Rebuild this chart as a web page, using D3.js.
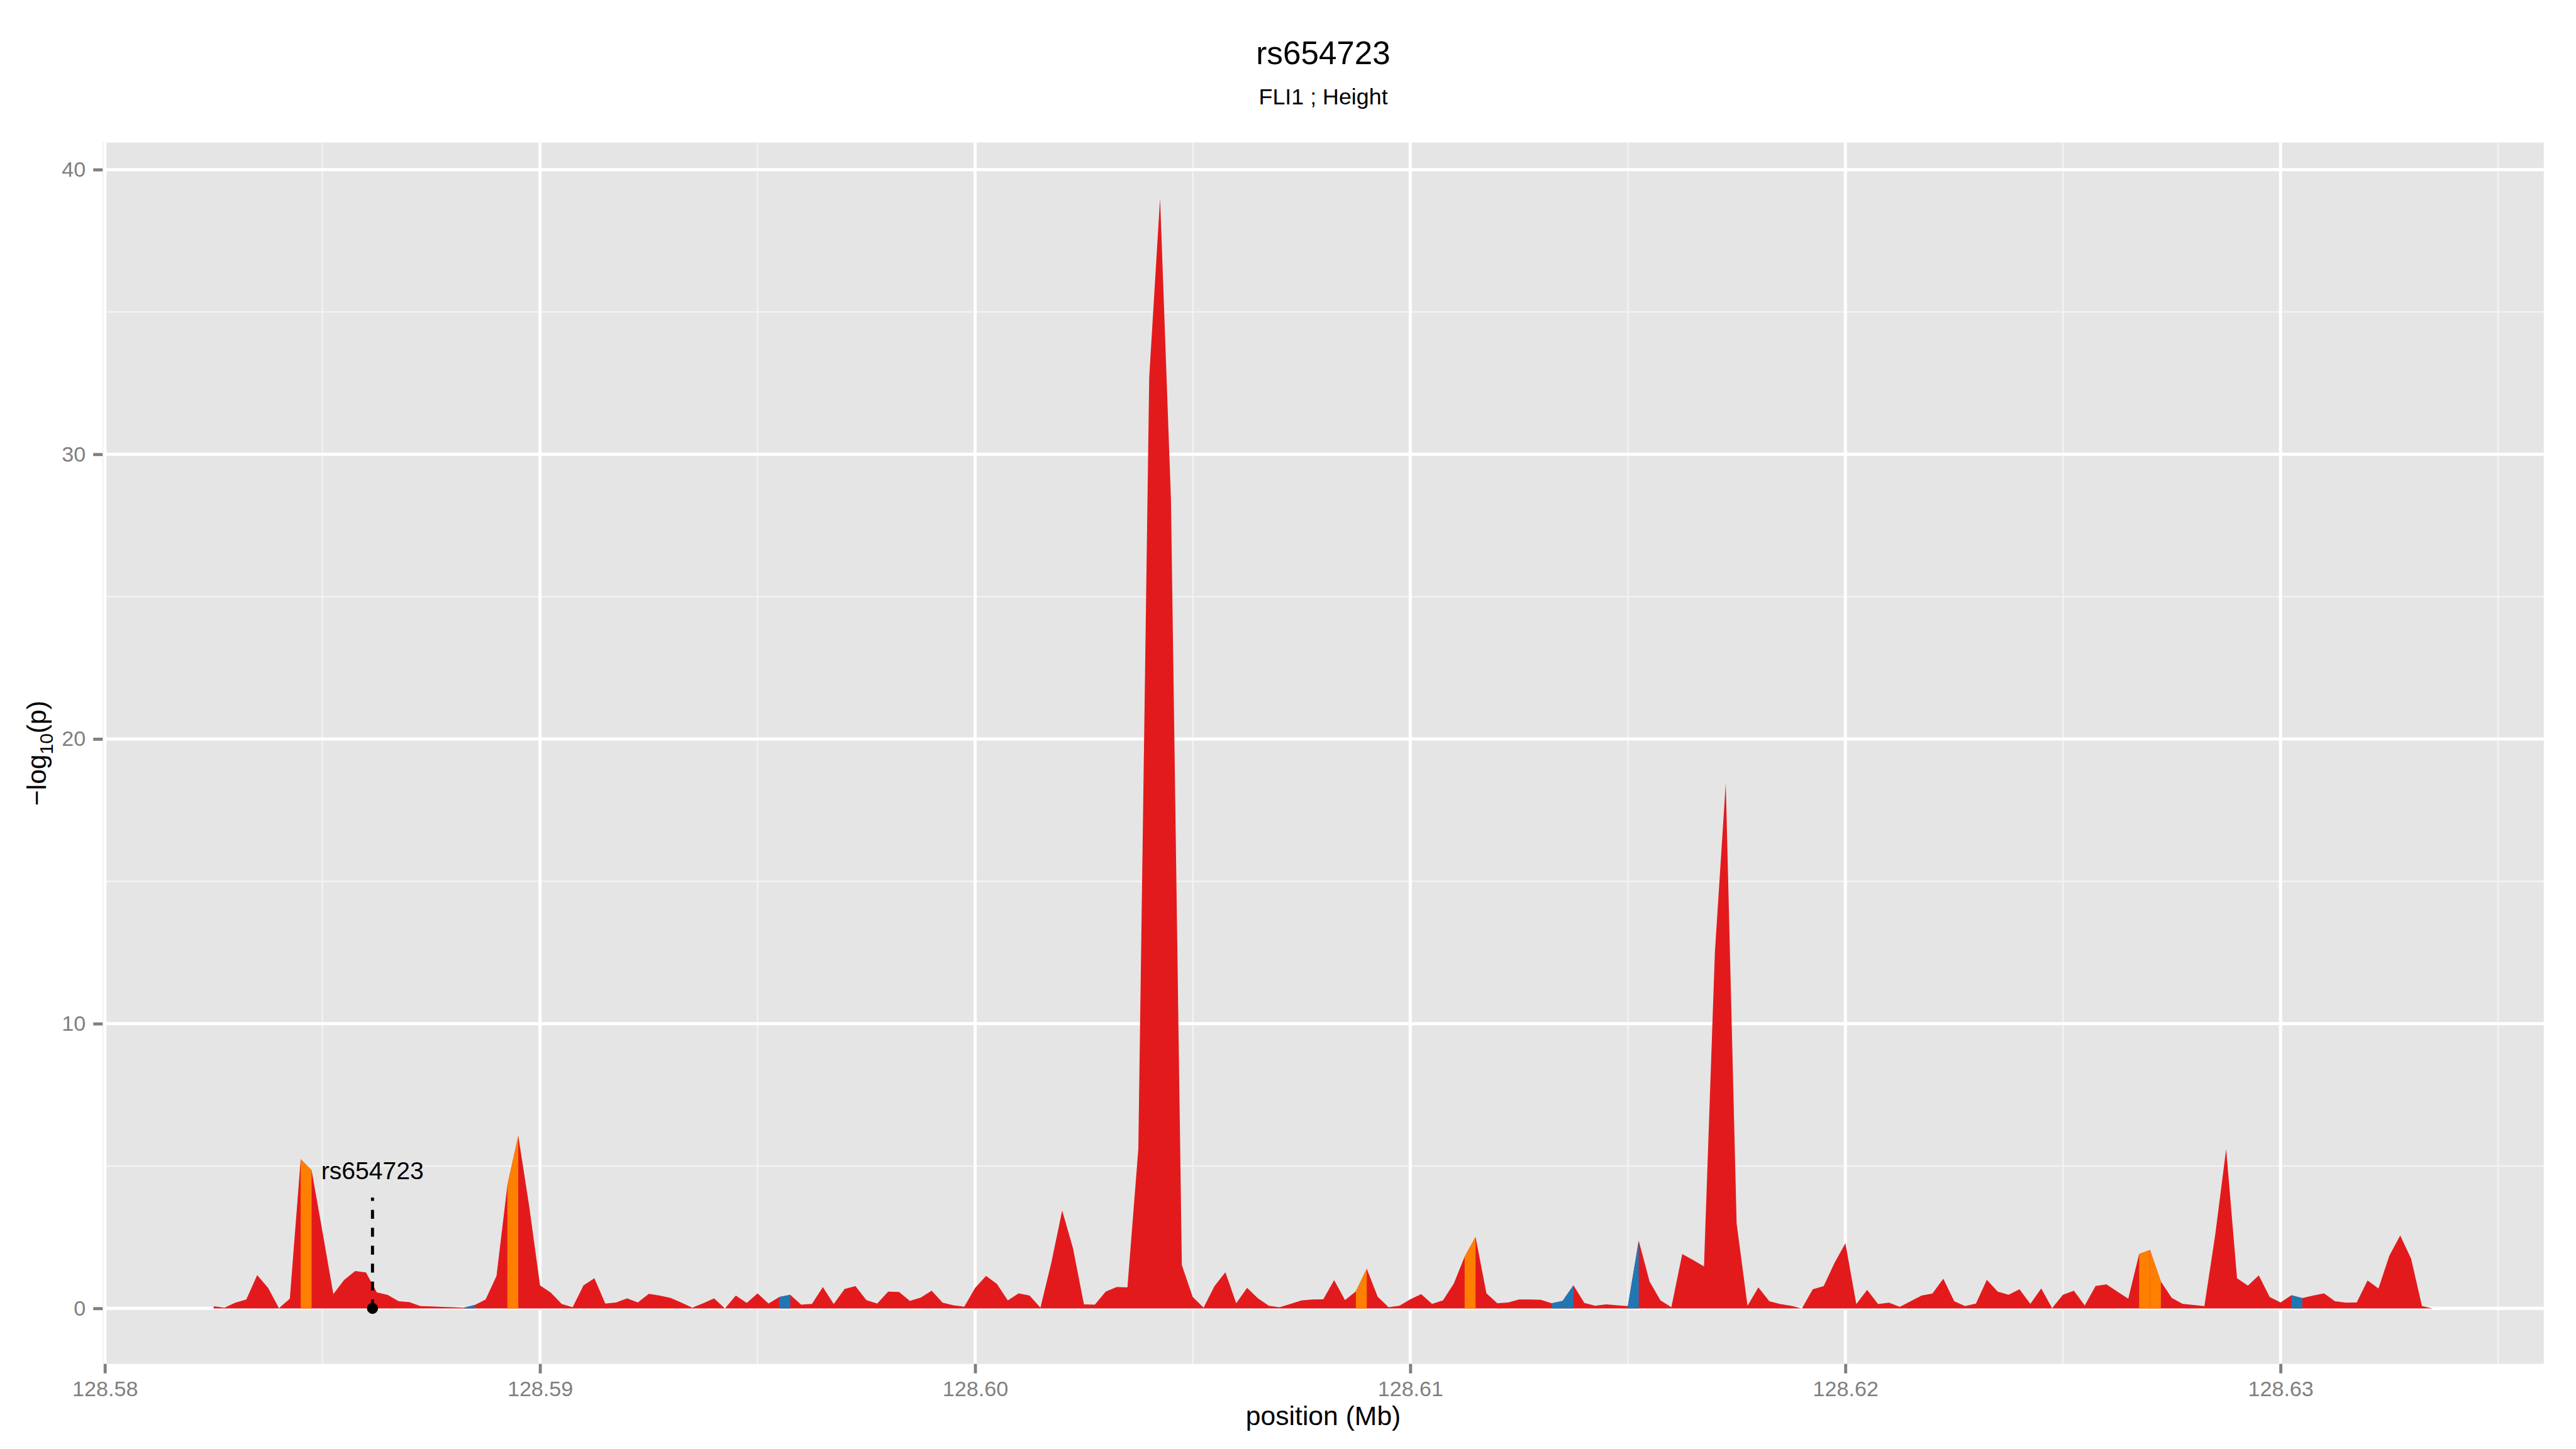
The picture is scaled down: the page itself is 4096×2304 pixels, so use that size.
<!DOCTYPE html>
<html>
<head>
<meta charset="utf-8">
<script src="https://cdn.jsdelivr.net/npm/d3@7"></script>
<style>
  body { margin: 0; background: #fff; }
  svg { display: block; }
  text { font-family: "Liberation Sans", Arial, Helvetica, sans-serif; }
</style>
</head>
<body>
<div id="chart"></div>
<script>
// SNP positions (Mb)
const positions = [
  128.58250, 128.58275, 128.58300, 128.58325, 128.58350, 128.58375, 128.58400, 128.58425, 128.58450, 128.58475,
  128.58500, 128.58525, 128.58550, 128.58575, 128.58600, 128.58625, 128.58650, 128.58675, 128.58700, 128.58725,
  128.58750, 128.58775, 128.58800, 128.58825, 128.58850, 128.58875, 128.58900, 128.58925, 128.58950, 128.58975,
  128.59000, 128.59025, 128.59050, 128.59075, 128.59100, 128.59125, 128.59150, 128.59175, 128.59200, 128.59225,
  128.59250, 128.59275, 128.59300, 128.59325, 128.59350, 128.59375, 128.59400, 128.59425, 128.59450, 128.59475,
  128.59500, 128.59525, 128.59550, 128.59575, 128.59600, 128.59625, 128.59650, 128.59675, 128.59700, 128.59725,
  128.59750, 128.59775, 128.59800, 128.59825, 128.59850, 128.59875, 128.59900, 128.59925, 128.59950, 128.59975,
  128.60000, 128.60025, 128.60050, 128.60075, 128.60100, 128.60125, 128.60150, 128.60175, 128.60200, 128.60225,
  128.60250, 128.60275, 128.60300, 128.60325, 128.60350, 128.60375, 128.60400, 128.60425, 128.60450, 128.60475,
  128.60500, 128.60525, 128.60550, 128.60575, 128.60600, 128.60625, 128.60650, 128.60675, 128.60700, 128.60725,
  128.60750, 128.60775, 128.60800, 128.60825, 128.60850, 128.60875, 128.60900, 128.60925, 128.60950, 128.60975,
  128.61000, 128.61025, 128.61050, 128.61075, 128.61100, 128.61125, 128.61150, 128.61175, 128.61200, 128.61225,
  128.61250, 128.61275, 128.61300, 128.61325, 128.61350, 128.61375, 128.61400, 128.61425, 128.61450, 128.61475,
  128.61500, 128.61525, 128.61550, 128.61575, 128.61600, 128.61625, 128.61650, 128.61675, 128.61700, 128.61725,
  128.61750, 128.61775, 128.61800, 128.61825, 128.61850, 128.61875, 128.61900, 128.61925, 128.61950, 128.61975,
  128.62000, 128.62025, 128.62050, 128.62075, 128.62100, 128.62125, 128.62150, 128.62175, 128.62200, 128.62225,
  128.62250, 128.62275, 128.62300, 128.62325, 128.62350, 128.62375, 128.62400, 128.62425, 128.62450, 128.62475,
  128.62500, 128.62525, 128.62550, 128.62575, 128.62600, 128.62625, 128.62650, 128.62675, 128.62700, 128.62725,
  128.62750, 128.62775, 128.62800, 128.62825, 128.62850, 128.62875, 128.62900, 128.62925, 128.62950, 128.62975,
  128.63000, 128.63025, 128.63050, 128.63075, 128.63100, 128.63125, 128.63150, 128.63175, 128.63200, 128.63225,
  128.63250, 128.63275, 128.63300, 128.63325, 128.63350
];

// -log10(p) at each position
const logP = [
  0.075, 0.025, 0.2, 0.31, 1.17, 0.72, 0.01, 0.34, 5.24, 4.85,
  2.7, 0.5, 1.0, 1.31, 1.26, 0.56, 0.47, 0.25, 0.22, 0.08,
  0.07, 0.05, 0.04, 0.025, 0.12, 0.31, 1.14, 4.33, 6.06, 3.6,
  0.81, 0.55, 0.15, 0.04, 0.81, 1.06, 0.17, 0.21, 0.35, 0.21,
  0.51, 0.45, 0.37, 0.2, 0.025, 0.18, 0.35, 0.0, 0.45, 0.19,
  0.53, 0.17, 0.40, 0.48, 0.13, 0.16, 0.75, 0.15, 0.68, 0.78,
  0.29, 0.17, 0.59, 0.58, 0.26, 0.38, 0.62, 0.2, 0.11, 0.06,
  0.72, 1.14, 0.86, 0.28, 0.53, 0.45, 0.025, 1.6, 3.44, 2.1,
  0.14, 0.13, 0.59, 0.75, 0.74, 5.6, 32.7, 39.0, 28.4, 1.52,
  0.40, 0.025, 0.78, 1.27, 0.18, 0.72, 0.35, 0.09, 0.04, 0.16,
  0.28, 0.31, 0.32, 0.99, 0.29, 0.60, 1.39, 0.41, 0.04, 0.09,
  0.32, 0.50, 0.16, 0.28, 0.87, 1.82, 2.51, 0.53, 0.18, 0.21,
  0.31, 0.31, 0.30, 0.18, 0.26, 0.81, 0.19, 0.09, 0.14, 0.11,
  0.08, 2.38, 0.94, 0.28, 0.04, 1.91, 1.70, 1.47, 12.5, 18.45,
  2.98, 0.09, 0.74, 0.25, 0.15, 0.09, 0.0, 0.67, 0.78, 1.6,
  2.29, 0.15, 0.65, 0.15, 0.2, 0.05, 0.25, 0.45, 0.52, 1.04,
  0.25, 0.08, 0.17, 1.0, 0.59, 0.48, 0.67, 0.16, 0.70, 0.01,
  0.48, 0.62, 0.10, 0.79, 0.84, 0.59, 0.34, 1.91, 2.05, 0.94,
  0.37, 0.16, 0.12, 0.08, 2.6, 5.60, 1.06, 0.80, 1.16, 0.40,
  0.21, 0.46, 0.36, 0.45, 0.53, 0.25, 0.20, 0.21, 0.98, 0.70,
  1.85, 2.56, 1.75, 0.08, 0.0
];

// segments (index of left point) drawn in other colours
const orangeSegments = [8, 27, 105, 115, 177, 178];
const blueSegments = [23, 52, 123, 124, 130, 191];

const xTicks = [128.58, 128.59, 128.60, 128.61, 128.62, 128.63];
const xMinor = [128.585, 128.595, 128.605, 128.615, 128.625, 128.635];
const yTicks = [0, 10, 20, 30, 40];
const yMinor = [5, 15, 25, 35];

const titleText = "rs654723";
const subtitleText = "FLI1 ; Height";
const snpName = "rs654723";
const snpPosition = 128.58615;
const snpLabelY = 4.85;
const snpLineTop = 3.89;

// Layout in reference pixels, scaled down by the viewBox
const W = 4800, H = 2700;
const margin = { top: 265.6, right: 60, bottom: 158.6, left: 191.4 };
const width = W - margin.left - margin.right;
const height = H - margin.top - margin.bottom;

const colors = { red: "#E31A1C", orange: "#FF7F00", blue: "#1F78B4" };

const svg = d3.select('#chart')
  .append('svg')
  .attr('width', 4096)
  .attr('height', 2304)
  .attr('viewBox', `0 0 ${W} ${H}`);

svg.append('rect').attr('width', W).attr('height', H).attr('fill', '#fff');

const g = svg.append('g')
  .attr('transform', `translate(${margin.left},${margin.top})`);

const data = positions.map((p, i) => ({ pos: p, val: logP[i] }));

// ggplot-style 5% expansion
const xExt = d3.extent(positions);
const xPad = (xExt[1] - xExt[0]) * 0.05;
const yMax = d3.max(logP);
const yPad = yMax * 0.05;

const x = d3.scaleLinear().domain([xExt[0] - xPad, xExt[1] + xPad]).range([0, width]);
const y = d3.scaleLinear().domain([-yPad, yMax + yPad]).range([height, 0]);

// panel
g.append('rect').attr('width', width).attr('height', height).attr('fill', '#E5E5E5');

// grid
g.selectAll('.xminor').data(xMinor).enter().append('line')
  .attr('x1', d => x(d)).attr('x2', d => x(d)).attr('y1', 0).attr('y2', height)
  .attr('stroke', '#F2F2F2').attr('stroke-width', 3);
g.selectAll('.yminor').data(yMinor).enter().append('line')
  .attr('x1', 0).attr('x2', width).attr('y1', d => y(d)).attr('y2', d => y(d))
  .attr('stroke', '#F2F2F2').attr('stroke-width', 3);
g.selectAll('.xmajor').data(xTicks).enter().append('line')
  .attr('x1', d => x(d)).attr('x2', d => x(d)).attr('y1', 0).attr('y2', height)
  .attr('stroke', '#fff').attr('stroke-width', 5.9);
g.selectAll('.ymajor').data(yTicks).enter().append('line')
  .attr('x1', 0).attr('x2', width).attr('y1', d => y(d)).attr('y2', d => y(d))
  .attr('stroke', '#fff').attr('stroke-width', 5.9);

// area
const area = d3.area()
  .x(d => x(d.pos))
  .y0(y(0))
  .y1(d => y(d.val));

g.append('path').datum(data).attr('d', area).attr('fill', colors.red);

const colored = orangeSegments.map(s => ({ s, c: colors.orange }))
  .concat(blueSegments.map(s => ({ s, c: colors.blue })));
g.selectAll('.seg').data(colored).enter().append('path')
  .attr('d', d => area(data.slice(d.s, d.s + 2)))
  .attr('fill', d => d.c);

// SNP marker
g.append('line')
  .attr('x1', x(snpPosition)).attr('x2', x(snpPosition))
  .attr('y1', y(0)).attr('y2', y(snpLineTop))
  .attr('stroke', '#000').attr('stroke-width', 5.7)
  .attr('stroke-dasharray', '16.7,16.7');
g.append('circle')
  .attr('cx', x(snpPosition)).attr('cy', y(0)).attr('r', 10.3)
  .attr('fill', '#000');
g.append('text')
  .attr('x', x(snpPosition)).attr('y', y(snpLabelY)).attr('dy', '0.36em')
  .attr('text-anchor', 'middle').attr('font-size', 45.8).attr('fill', '#000')
  .text(snpName);

// axes
const xAxis = g.append('g')
  .attr('transform', `translate(0,${height})`)
  .call(d3.axisBottom(x).tickValues(xTicks).tickFormat(d3.format('.2f'))
    .tickSize(17.7).tickPadding(14));
const yAxis = g.append('g')
  .call(d3.axisLeft(y).tickValues(yTicks).tickSize(17.7).tickPadding(14));

[xAxis, yAxis].forEach(ax => {
  ax.select('.domain').remove();
  ax.selectAll('line').attr('stroke', '#7F7F7F').attr('stroke-width', 5.7);
  ax.selectAll('text').attr('fill', '#7F7F7F').attr('font-size', 40)
    .style('font-family', '"Liberation Sans", Arial, sans-serif');
});

// titles
const cx = margin.left + width / 2;
svg.append('text').attr('x', cx).attr('y', 119)
  .attr('text-anchor', 'middle').attr('font-size', 60).text(titleText);
svg.append('text').attr('x', cx).attr('y', 194)
  .attr('text-anchor', 'middle').attr('font-size', 42).text(subtitleText);

svg.append('text').attr('x', cx).attr('y', 2655)
  .attr('text-anchor', 'middle').attr('font-size', 50).text('position (Mb)');

const yTitle = svg.append('text')
  .attr('transform', `translate(86,${margin.top + height / 2}) rotate(-90)`)
  .attr('text-anchor', 'middle').attr('font-size', 50);
yTitle.append('tspan').text('\u2212log');
yTitle.append('tspan').attr('font-size', 35).attr('dy', 12).text('10');
yTitle.append('tspan').attr('dy', -12).text('(p)');
</script>
</body>
</html>
